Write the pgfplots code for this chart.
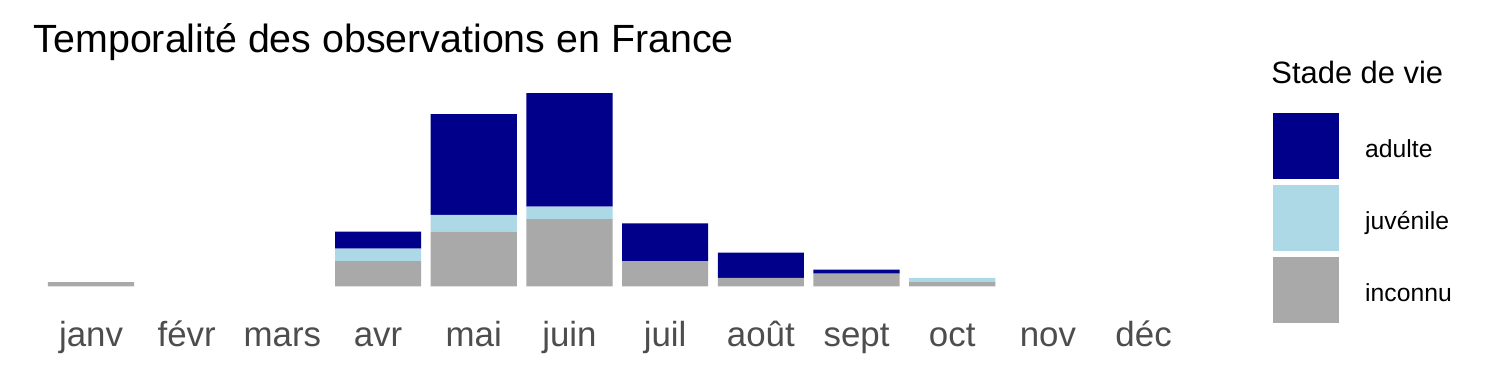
\documentclass[border=0pt]{standalone}
\usepackage{pgfplots}
\pgfplotsset{compat=1.18}
\usepackage{pgfplotstable}
\usepackage{fontspec}
\setmainfont{Liberation Sans}
\definecolor{cadulte}{HTML}{00008B}
\definecolor{cjuv}{HTML}{ADD8E6}
\definecolor{cinc}{HTML}{A9A9A9}
\definecolor{ctick}{HTML}{4D4D4D}
\pgfplotstableread{
x inconnu juvenile adulte
0 1 0 0
1 0 0 0
2 0 0 0
3 6 3 4
4 13 4 24
5 16 3 27
6 6 0 9
7 2 0 6
8 3 0 1
9 1 1 0
10 0 0 0
11 0 0 0
}\datatable
\begin{document}
\begin{tikzpicture}
\begin{axis}[
  at={(33.6bp,-296bp)}, anchor=south west,
  scale only axis,
  width=1167.4bp, height=212.5bp,
  xmin=-0.6, xmax=11.6, ymin=-2.3, ymax=48.3,
  ybar stacked, bar width=0.9, bar shift=0pt,
  axis line style={draw=none},
  ytick=\empty,
  xtick={0,...,11},
  xticklabels={janv,févr,mars,avr,mai,juin,juil,août,sept,oct,nov,déc},
  major tick length=0pt,
  major tick style={draw=none},
  xticklabel style={anchor=base, yshift=-50.7bp, text=ctick, font=\fontsize{35}{42}\selectfont, inner sep=0pt},
  clip=false,
  legend style={at={(1.0617,0.8638)}, anchor=north west, draw=none, fill=none, inner sep=0pt,
    row sep=6bp, column sep=26bp, font=\fontsize{24.8}{30}\selectfont,
    nodes={inner sep=0pt}},
  legend cell align=left,
  reverse legend,
  legend image code/.code={\fill[#1] (0bp,-29bp) rectangle (66bp,37bp);},
]
\addplot+[fill=cinc, draw=none] table[x=x, y=inconnu] {\datatable};
\addplot+[fill=cjuv, draw=none] table[x=x, y=juvenile] {\datatable};
\addplot+[fill=cadulte, draw=none] table[x=x, y=adulte] {\datatable};
\legend{inconnu,juvénile,adulte}
\node[anchor=base west, inner sep=0pt, font=\fontsize{39.5}{47}\selectfont] at (axis description cs:0,1.1441) {Temporalité des observations en France};
\node[anchor=base west, inner sep=0pt, font=\fontsize{31}{37}\selectfont] at (axis description cs:1.0602,1.0) {Stade de vie};
\end{axis}
\pgfresetboundingbox
\path[use as bounding box] (0,0) rectangle (1500bp,-375bp);
\end{tikzpicture}
\end{document}
